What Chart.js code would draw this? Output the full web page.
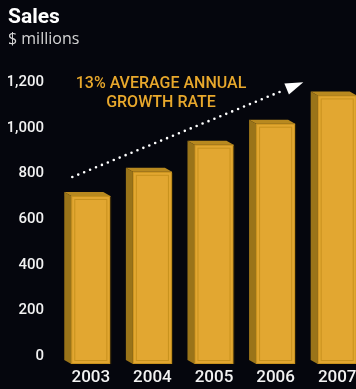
<!DOCTYPE html>
<html>
<head>
<meta charset="utf-8">
<script src="https://cdn.jsdelivr.net/npm/chart.js@4.4.1/dist/chart.umd.min.js"></script>
<style>
  html, body { margin: 0; padding: 0; background: #05060d; overflow: hidden; }
  canvas { display: block; }
</style>
</head>
<body>
<canvas id="salesChart" width="368" height="389"></canvas>
<script>
// values ($ millions)
const years = ['2003', '2004', '2005', '2006', '2007'];
const sales = [737, 843, 962, 1054, 1178];
const yTicks = [0, 200, 400, 600, 800, 1000, 1200];
// trend arrow, [category index, value]
const trendArrow = [[-0.3, 820], [3.45, 1236]];
const noteLines = ['13% AVERAGE ANNUAL', 'GROWTH RATE'];
const notePos = [1.14, 1229];

const gold = '#e2a731';
const goldSide = '#9a7419';
const goldTop = '#b8891f';
const goldLine = '#c8921e';

// side and top faces plus inner line of each bar
const bar3d = {
    id: 'bar3d',
    afterDatasetsDraw(chart) {
        const ctx = chart.ctx;
        const meta = chart.getDatasetMeta(0);
        const dx = 7, dy = 4;
        meta.data.forEach(el => {
            const p = el.getProps(['x', 'y', 'base', 'width'], true);
            const left = p.x - p.width / 2;
            const right = p.x + p.width / 2;
            ctx.save();
            ctx.fillStyle = goldSide;
            ctx.beginPath();
            ctx.moveTo(left, p.y);
            ctx.lineTo(left - dx, p.y - dy);
            ctx.lineTo(left - dx, p.base - dy);
            ctx.lineTo(left, p.base);
            ctx.closePath();
            ctx.fill();
            ctx.fillStyle = goldTop;
            ctx.beginPath();
            ctx.moveTo(left, p.y);
            ctx.lineTo(left - dx, p.y - dy);
            ctx.lineTo(right - dx, p.y - dy);
            ctx.lineTo(right, p.y);
            ctx.closePath();
            ctx.fill();
            ctx.strokeStyle = goldLine;
            ctx.lineWidth = 1;
            ctx.strokeRect(left + 0.5, p.y + 0.5, p.width - 1, p.base - p.y - 1);
            ctx.strokeRect(left + 3.5, p.y + 3.5, p.width - 7, p.base - p.y - 7);
            ctx.strokeStyle = '#2a1f07';
            ctx.beginPath();
            ctx.moveTo(right + 0.5, p.y + 1);
            ctx.lineTo(right + 0.5, p.base);
            ctx.stroke();
            ctx.restore();
        });
    }
};

// dotted growth arrow and its note
const growthNote = {
    id: 'growthNote',
    afterDraw(chart) {
        const ctx = chart.ctx;
        const xs = chart.scales.x, ys = chart.scales.y;
        const x0 = xs.getPixelForValue(trendArrow[0][0]);
        const y0 = ys.getPixelForValue(trendArrow[0][1]);
        const x1 = xs.getPixelForValue(trendArrow[1][0]);
        const y1 = ys.getPixelForValue(trendArrow[1][1]);
        const ang = Math.atan2(y1 - y0, x1 - x0);
        const headLen = 18, headHalf = 6;
        const bx = x1 - headLen * Math.cos(ang);
        const by = y1 - headLen * Math.sin(ang);

        ctx.save();
        ctx.strokeStyle = '#ffffff';
        ctx.lineWidth = 2.6;
        ctx.lineCap = 'round';
        ctx.setLineDash([0, 6.4]);
        ctx.beginPath();
        ctx.moveTo(x0, y0);
        ctx.lineTo(bx - 2 * Math.cos(ang), by - 2 * Math.sin(ang));
        ctx.stroke();
        ctx.setLineDash([]);

        ctx.fillStyle = '#ffffff';
        ctx.beginPath();
        ctx.moveTo(x1, y1);
        ctx.lineTo(bx + headHalf * Math.sin(ang), by - headHalf * Math.cos(ang));
        ctx.lineTo(bx - headHalf * Math.sin(ang), by + headHalf * Math.cos(ang));
        ctx.closePath();
        ctx.fill();

        const tx = xs.getPixelForValue(notePos[0]);
        const ty = ys.getPixelForValue(notePos[1]);
        ctx.fillStyle = '#e8a82c';
        ctx.font = '500 16px Roboto';
        ctx.textAlign = 'center';
        ctx.textBaseline = 'middle';
        noteLines.forEach((line, i) => ctx.fillText(line, tx, ty + i * 19));
        ctx.restore();
    }
};

const ctx = document.getElementById('salesChart').getContext('2d');
new Chart(ctx, {
    type: 'bar',
    data: {
        labels: years,
        datasets: [{
            data: sales,
            backgroundColor: gold,
            borderWidth: 0,
            categoryPercentage: 1,
            barPercentage: 0.634
        }]
    },
    options: {
        responsive: false,
        animation: false,
        devicePixelRatio: 1,
        layout: { padding: { left: 8, right: 0, top: 0, bottom: 0 } },
        plugins: {
            legend: { display: false },
            tooltip: { enabled: false },
            title: {
                display: true,
                text: 'Sales',
                align: 'start',
                color: '#ffffff',
                font: { family: 'Roboto', size: 21, weight: 'bold' },
                padding: { top: 5, bottom: 0 }
            },
            subtitle: {
                display: true,
                text: '$ millions',
                align: 'start',
                color: '#d6d6d6',
                font: { family: 'Open Sans', size: 16 },
                padding: { top: 0, bottom: 41 }
            }
        },
        scales: {
            x: {
                grid: { display: false, drawTicks: false },
                border: { display: false },
                ticks: {
                    color: '#f2f2f2',
                    font: { family: 'Roboto', size: 17, weight: '500' },
                    padding: 4
                },
                afterFit(scale) { scale.height = 22; }
            },
            y: {
                min: 0,
                max: 1200,
                grid: { display: false, drawTicks: false },
                border: { display: false },
                afterBuildTicks(scale) { scale.ticks = yTicks.map(v => ({ value: v })); },
                ticks: {
                    color: '#f2f2f2',
                    font: { family: 'Roboto', size: 15, weight: '500' },
                    padding: 16,
                    labelOffset: -8,
                    callback: v => v.toLocaleString('en-US')
                },
                afterFit(scale) { scale.width = 52; }
            }
        }
    },
    plugins: [bar3d, growthNote]
});
</script>
</body>
</html>
